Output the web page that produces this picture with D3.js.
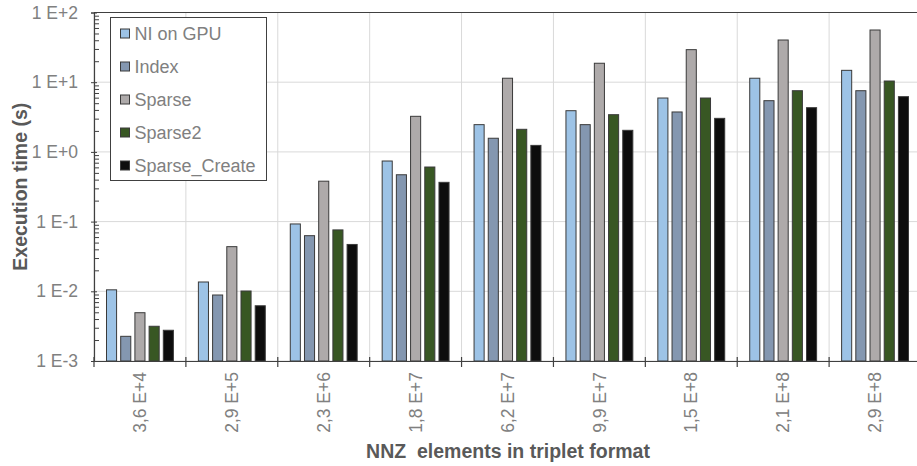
<!DOCTYPE html>
<html>
<head>
<meta charset="utf-8">
<script src="https://cdn.jsdelivr.net/npm/d3@7"></script>
<style>
  html, body { margin: 0; padding: 0; background: #fff; }
  svg { display: block; overflow: hidden; font-family: "Liberation Sans", Arial, sans-serif; }
</style>
</head>
<body>
<div id="chart"></div>
<script>
// NNZ sizes (x categories) and execution times in seconds
var categories = ["3,6 E+4", "2,9 E+5", "2,3 E+6", "1,8 E+7", "6,2 E+7", "9,9 E+7", "1,5 E+8", "2,1 E+8", "2,9 E+8"];
var seriesNames = ["NI on GPU", "Index", "Sparse", "Sparse2", "Sparse_Create"];
var seriesColors = ["#9dc3e6", "#8497b0", "#aeaaaa", "#385723", "#0d0d0d"];

var niOnGpu      = [0.0105, 0.0136, 0.0925, 0.74, 2.46, 3.90, 5.93, 11.4, 14.8];
var indexTimes   = [0.00226, 0.00885, 0.0628, 0.47, 1.57, 2.46, 3.74, 5.43, 7.55];
var sparse       = [0.00493, 0.0437, 0.38, 3.24, 11.4, 18.7, 29.3, 40.3, 56.1];
var sparse2      = [0.00315, 0.0101, 0.076, 0.607, 2.11, 3.42, 5.93, 7.55, 10.4];
var sparseCreate = [0.00276, 0.0062, 0.047, 0.366, 1.24, 2.04, 3.03, 4.31, 6.2];

var yDecades = [1e-3, 1e-2, 1e-1, 1e0, 1e1, 1e2];

(function () {
  var W = 917, H = 466;
  var left = 94, right = 921, top = 12.5, bottom = 361;
  var seriesValues = [niOnGpu, indexTimes, sparse, sparse2, sparseCreate];
  var axisColor = "#404040";
  var gridColor = "#d9d9d9";
  var labelColor = "#808080";
  var titleColor = "#595959";

  var svg = d3.select("#chart").append("svg").attr("width", W).attr("height", H);

  var x = d3.scaleBand().domain(categories).range([left, right]);
  var x1 = d3.scaleBand().domain(seriesNames).range([12.5, x.bandwidth() - 12.5]).paddingInner(0.29);
  var y = d3.scaleLog().domain([1e-3, 1e2]).range([bottom, top]);

  // log minor ticks (2..9 inside each decade)
  var minor = [];
  yDecades.slice(0, -1).forEach(function (d) {
    for (var k = 2; k <= 9; k++) minor.push(d * k);
  });
  var boundaries = categories.map(function (c) { return x(c); }).concat([right]);

  // grid
  svg.append("g").selectAll("line.h").data(yDecades).enter().append("line")
    .attr("x1", left).attr("x2", right)
    .attr("y1", function (d) { return y(d); }).attr("y2", function (d) { return y(d); })
    .attr("stroke", gridColor).attr("stroke-width", 1);
  svg.append("g").selectAll("line.v").data(boundaries).enter().append("line")
    .attr("x1", function (d) { return d; }).attr("x2", function (d) { return d; })
    .attr("y1", top).attr("y2", bottom)
    .attr("stroke", gridColor).attr("stroke-width", 1);

  // top border of plot area
  svg.append("line").attr("x1", left).attr("x2", right).attr("y1", top).attr("y2", top)
    .attr("stroke", axisColor).attr("stroke-width", 1.2);

  // bars
  var groups = svg.append("g").selectAll("g").data(categories).enter().append("g")
    .attr("transform", function (c) { return "translate(" + x(c) + ",0)"; });
  groups.selectAll("rect")
    .data(function (c, ci) {
      return seriesNames.map(function (s, si) { return { s: s, si: si, v: seriesValues[si][ci] }; });
    })
    .enter().append("rect")
    .attr("x", function (d) { return x1(d.s); })
    .attr("width", x1.bandwidth())
    .attr("y", function (d) { return y(d.v); })
    .attr("height", function (d) { return bottom - y(d.v); })
    .attr("fill", function (d) { return seriesColors[d.si]; })
    .attr("stroke", "#3a3a3a").attr("stroke-width", 1);

  // y axis
  var fmt = function (d) {
    var e = Math.round(Math.log10(d));
    return "1 E" + (e >= 0 ? "+" : "-") + Math.abs(e);
  };
  var yAxis = svg.append("g").attr("transform", "translate(" + left + ",0)")
    .call(d3.axisLeft(y).tickValues(yDecades).tickFormat(fmt).tickSize(3).tickPadding(13));
  yAxis.select(".domain").attr("stroke", axisColor).attr("stroke-width", 1.2);
  yAxis.selectAll(".tick line").attr("x1", 3).attr("stroke", axisColor);
  yAxis.selectAll("text").attr("fill", labelColor).attr("font-size", "17.5px")
    .attr("font-family", "Liberation Sans, Arial, sans-serif");

  var yMinor = svg.append("g").attr("transform", "translate(" + left + ",0)")
    .call(d3.axisLeft(y).tickValues(minor).tickFormat("").tickSize(-5));
  yMinor.select(".domain").remove();
  yMinor.selectAll(".tick line").attr("stroke", axisColor);

  // x axis
  var xAxis = svg.append("g").attr("transform", "translate(0," + bottom + ")")
    .call(d3.axisBottom(x).tickSize(0).tickPadding(0));
  xAxis.select(".domain").attr("stroke", axisColor).attr("stroke-width", 1.2);
  xAxis.selectAll("text")
    .attr("fill", labelColor).attr("font-size", "17.5px")
    .attr("font-family", "Liberation Sans, Arial, sans-serif")
    .attr("text-anchor", "end").attr("dy", "0.35em")
    .attr("transform", "translate(0,11) rotate(-90)");
  svg.append("g").selectAll("line").data(boundaries).enter().append("line")
    .attr("x1", function (d) { return d; }).attr("x2", function (d) { return d; })
    .attr("y1", bottom - 4).attr("y2", bottom + 6)
    .attr("stroke", axisColor).attr("stroke-width", 1.2);

  // axis titles
  svg.append("text")
    .attr("x", 508).attr("y", 458)
    .attr("text-anchor", "middle").attr("font-size", "19.5px").attr("font-weight", "bold")
    .attr("fill", titleColor).style("white-space", "pre")
    .text("NNZ  elements in triplet format");
  svg.append("text")
    .attr("transform", "translate(27," + ((top + bottom) / 2) + ") rotate(-90)")
    .attr("text-anchor", "middle").attr("font-size", "19.5px").attr("font-weight", "bold")
    .attr("fill", titleColor)
    .text("Execution time (s)");

  // legend
  var lg = svg.append("g").attr("transform", "translate(110.5,17.5)");
  lg.append("rect").attr("width", 156).attr("height", 163)
    .attr("fill", "#fff").attr("stroke", axisColor).attr("stroke-width", 1);
  var rows = lg.selectAll("g").data(seriesNames).enter().append("g")
    .attr("transform", function (d, i) { return "translate(0," + (16 + i * 33) + ")"; });
  rows.append("rect").attr("x", 10).attr("y", -4.5).attr("width", 9).attr("height", 9)
    .attr("fill", function (d, i) { return seriesColors[i]; })
    .attr("stroke", "#3a3a3a").attr("stroke-width", 1);
  rows.append("text").attr("x", 24).attr("y", 0).attr("dy", "0.35em")
    .attr("font-size", "18px").attr("fill", labelColor)
    .text(function (d) { return d; });
})();
</script>
</body>
</html>
